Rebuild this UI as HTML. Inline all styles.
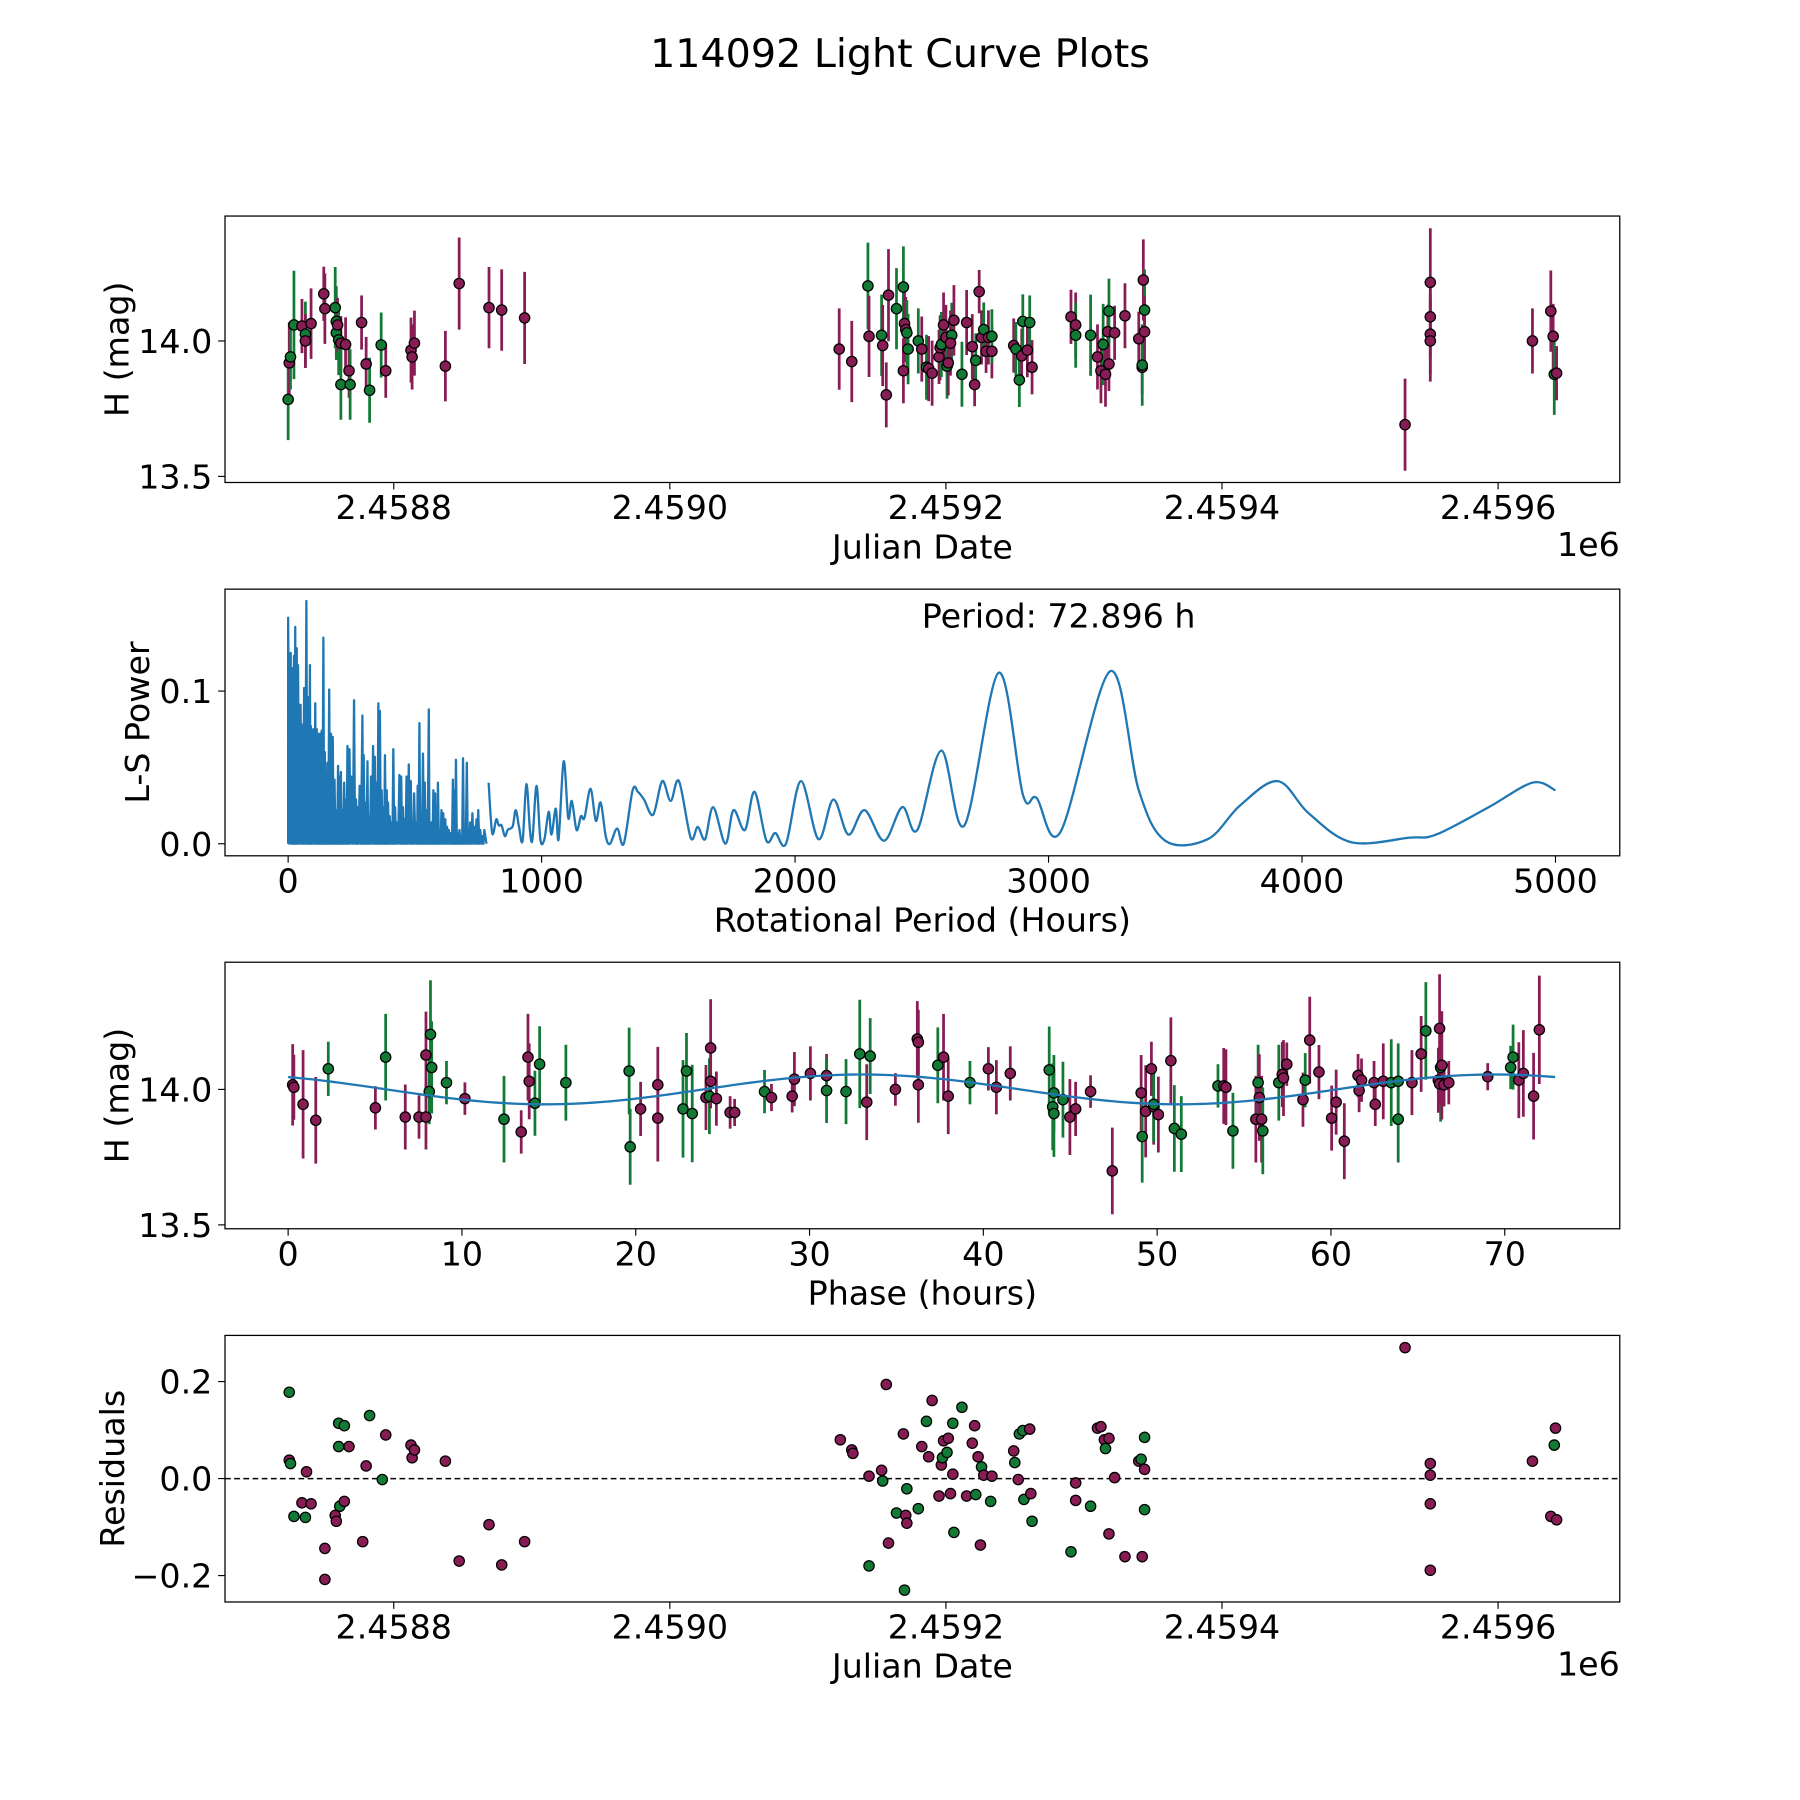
<!DOCTYPE html>
<html><head><meta charset="utf-8"><title>114092 Light Curve Plots</title>
<style>
html,body{margin:0;padding:0;background:#fff;}
svg{display:block;}
text{font-family:"DejaVu Sans","Liberation Sans",sans-serif;fill:#000;}
</style></head>
<body>
<svg id="fig" xmlns="http://www.w3.org/2000/svg" width="1800" height="1800" viewBox="0 0 1568 1568">
<rect x="0" y="0" width="1568" height="1568" fill="#fff"/>
<text x="784" y="58.5" font-size="34.5" text-anchor="middle">114092 Light Curve Plots</text>
</svg>
<script>
// ---------- Panel 1: light curve (JD offset from 2458800) ----------
const p1Day = [
-76.5,-75.7,-74.8,-72.3,-66.5,-64.0,-64.0,-59.9,-50.7,-49.9,
-42.4,-41.6,-41.6,-40.7,-39.9,-38.3,-38.3,-34.9,-32.4,-31.6,
-23.3,-20.0,-17.5,-9.1,-5.8,12.5,13.3,15.0,37.4,47.4,
69.0,78.2,94.8,322.7,331.8,343.5,344.3,353.4,354.2,356.8,
358.4,364.2,369.2,369.2,370.0,370.9,371.7,372.6,380.0,382.5,
385.9,387.5,390.0,395.0,395.8,396.7,398.3,400.0,400.8,401.7,
404.2,403.3,405.8,411.6,415.0,419.1,420.8,421.6,424.1,425.8,
427.4,429.1,430.8,433.3,433.3,449.1,450.7,453.2,454.9,455.7,
459.0,460.7,462.4,490.6,494.0,494.0,504.8,509.8,512.3,513.9,
515.6,517.3,518.1,518.1,522.2,529.7,539.7,542.2,543.0,543.9,
543.9,542.2,732.6,750.9,750.9,750.9,750.9,824.9,838.2,839.9,
840.7,842.4];
const p1Mag = [
13.784,13.919,13.941,14.059,14.055,14.025,14.000,14.064,14.174,14.119,
14.123,14.072,14.030,14.059,14.004,13.992,13.839,13.987,13.890,13.839,
14.068,13.915,13.818,13.985,13.890,13.966,13.941,13.992,13.907,14.212,
14.123,14.114,14.085,13.970,13.924,14.203,14.017,14.021,13.983,13.801,
14.169,14.119,14.199,13.890,14.064,14.042,14.030,13.970,14.000,13.970,
13.903,13.898,13.881,13.941,13.975,13.987,14.059,14.013,13.907,13.919,
14.021,13.992,14.076,13.877,14.068,13.979,13.839,13.928,14.182,14.013,
14.042,13.962,14.013,13.962,14.017,13.983,13.970,13.856,13.945,14.072,
13.966,14.068,13.903,14.089,14.059,14.021,14.021,13.941,13.890,13.987,
13.877,14.034,13.915,14.110,14.030,14.093,14.008,13.903,14.225,14.114,
14.034,13.911,13.691,14.216,14.089,14.025,14.000,14.000,14.110,14.017,
13.877,13.881];
const p1Err = [
0.15,0.15,0.12,0.2,0.1,0.12,0.1,0.13,0.1,0.13,
0.15,0.13,0.1,0.1,0.13,0.1,0.13,0.1,0.1,0.13,
0.1,0.1,0.12,0.12,0.1,0.12,0.12,0.12,0.13,0.17,
0.15,0.15,0.17,0.15,0.15,0.16,0.15,0.15,0.15,0.12,
0.17,0.15,0.15,0.12,0.12,0.12,0.12,0.13,0.12,0.12,
0.12,0.12,0.12,0.1,0.12,0.12,0.12,0.12,0.12,0.12,
0.12,0.12,0.13,0.12,0.12,0.12,0.08,0.1,0.08,0.1,
0.1,0.08,0.1,0.1,0.1,0.1,0.1,0.1,0.1,0.1,
0.1,0.1,0.1,0.1,0.12,0.12,0.15,0.12,0.12,0.15,
0.12,0.1,0.1,0.12,0.1,0.12,0.1,0.1,0.15,0.15,
0.13,0.15,0.17,0.2,0.15,0.15,0.15,0.12,0.15,0.12,
0.15,0.1];
const p1Filter = ("gmggmgmmmm"+"gggmgmgmmg"+"mmggmmmmmm"+"mmmmmgmgmm"+"mggmmmgggm"+
 "gmmmmgmmgm"+"gmmgmmmgmm"+"gmmmgmggmg"+"mgmmmggmmg"+"mmmgmmmmmg"+"mgmmmmmmmm"+"gm").split("");

// ---------- Panel 2: Lomb-Scargle periodogram ----------
const spikePeriod = [0,10,17,23,28,34,39,49,56,63,72,79,86,90,99,107,113,120,127,132,
139,145,149,155,162,169,176,183,190,197,201,208,214,221,228,234,242,251,260,268,
275,282,293,298,306,313,318,327,335,342,349,356,362,369,376,382,389,394,401,408,
415,422,429,439,446,453,460,467,476,484,490,497,507,511,518,524,532,539,546,555,
560,566,573,580,586,591,598,605,612,620,627,634,643,650,656,662,669,676,683,690,
697,705,712,718,727,735,743,750,758,767,774];
const spikePower = [0.148,0.125,0.115,0.123,0.142,0.128,0.117,0.091,0.078,0.102,
0.159,0.096,0.117,0.077,0.075,0.092,0.075,0.072,0.072,0.074,
0.135,0.060,0.022,0.053,0.101,0.072,0.070,0.042,0.022,0.051,
0.044,0.047,0.022,0.040,0.029,0.064,0.062,0.044,0.094,0.029,
0.024,0.038,0.084,0.058,0.027,0.054,0.018,0.044,0.064,0.057,
0.040,0.092,0.087,0.035,0.024,0.058,0.035,0.027,0.018,0.014,
0.062,0.024,0.014,0.045,0.044,0.024,0.016,0.044,0.052,0.041,
0.014,0.033,0.014,0.038,0.079,0.016,0.059,0.040,0.022,0.088,
0.009,0.014,0.035,0.033,0.009,0.040,0.005,0.022,0.020,0.016,
0.011,0.009,0.007,0.042,0.035,0.055,0.007,0.009,0.005,0.056,
0.007,0.053,0.009,0.014,0.020,0.011,0.016,0.022,0.009,0.005,0.009];
const lsPeriod = [791,805,821,831,842,855,866,877,887,898,911,925,940,954,964,980,995,1011,1028,1039,1056,1067,
1087,1105,1119,1138,1155,1169,1193,1214,1233,1253,1270,1298,1324,1359,1380,1404,1440,1476,1509,1542,1588,1616,1645,1677,1725,1757,1802,1840,1887,1922,1964,
2023,2092,2151,2210,2274,2351,2423,2482,2577,2668,2803,2899,2953,3048,3243,3356,3460,3628,3755,3904,4026,4194,4425,4529,4737,4909,5000];
const lsPower = [0.040,0.007,0.016,0.012,0.012,0.005,0.009,0.010,0.012,0.022,0.011,0.002,0.039,0.009,0.003,0.038,0.003,0.003,0.021,0.006,0.023,0.003,
0.054,0.017,0.028,0.009,0.018,0.017,0.036,0.015,0.027,0.005,0.000,0.010,0.000,0.035,0.034,0.029,0.019,0.041,0.028,0.041,0.004,0.011,0.003,0.024,0.000,0.022,0.009,0.034,0.002,0.007,0.000,
0.041,0.003,0.029,0.006,0.022,0.002,0.024,0.009,0.061,0.012,0.112,0.032,0.030,0.008,0.113,0.035,0.002,0.003,0.025,0.041,0.020,0.001,0.004,0.006,0.024,0.040,0.035];
const bestPeriodLabel = "Period: 72.896 h";

// ---------- Panel 3: phase-folded ----------
const p3Phase = [
0.26,0.33,0.86,1.59,2.31,5.02,5.61,6.74,7.53,7.93,
7.93,8.12,8.19,8.26,9.11,10.17,12.42,13.41,13.80,13.87,
14.20,14.47,15.98,19.62,19.68,20.28,21.27,21.27,22.72,22.92,
23.25,24.04,24.24,24.31,24.31,24.64,25.43,25.69,27.41,27.81,
29.00,29.13,30.05,30.98,30.98,32.10,32.89,33.29,33.49,34.94,
36.20,36.26,36.26,37.38,37.71,37.98,39.23,40.29,40.75,41.55,
43.79,43.99,44.06,44.06,44.58,44.98,45.31,46.17,47.42,49.08,
49.14,49.34,49.67,49.80,49.80,50.07,50.79,50.99,51.39,53.50,
53.83,53.96,54.36,55.68,55.81,55.88,56.01,56.08,57.00,57.20,
57.27,57.46,58.39,58.52,58.78,59.31,60.04,60.30,60.77,61.56,
61.62,61.76,62.48,62.55,63.01,63.47,63.87,63.87,64.66,65.19,
65.46,66.18,66.31,66.38,66.25,66.25,66.51,66.78,69.02,70.34,
70.48,70.81,71.07,71.66,71.99];
const p3Mag = [
14.017,14.008,13.945,13.886,14.076,13.932,14.119,13.898,13.898,14.127,
13.898,13.992,14.203,14.081,14.025,13.966,13.890,13.843,14.119,14.030,
13.949,14.093,14.025,14.068,13.788,13.928,14.017,13.894,13.928,14.068,
13.911,13.970,13.975,14.153,14.030,13.966,13.915,13.915,13.992,13.970,
13.975,14.038,14.059,14.051,13.996,13.992,14.131,13.953,14.123,14.000,
14.186,14.174,14.017,14.089,14.119,13.975,14.025,14.076,14.008,14.059,
14.072,13.936,13.911,13.987,13.962,13.898,13.928,13.992,13.699,13.987,
13.826,13.919,14.076,13.936,13.945,13.907,14.106,13.856,13.835,14.013,
14.013,14.008,13.847,13.890,14.025,13.970,13.890,13.847,14.025,14.055,
14.042,14.093,13.962,14.034,14.182,14.064,13.894,13.953,13.809,14.051,
13.996,14.034,14.025,13.945,14.030,14.025,14.030,13.890,14.025,14.131,
14.216,14.034,14.081,14.089,14.225,14.021,14.017,14.025,14.047,14.081,
14.119,14.034,14.059,13.975,14.220];
const p3Err = [
0.15,0.12,0.2,0.16,0.1,0.08,0.16,0.12,0.08,0.16,
0.12,0.12,0.2,0.17,0.08,0.06,0.16,0.08,0.16,0.14,
0.12,0.14,0.14,0.16,0.14,0.1,0.14,0.16,0.18,0.14,
0.18,0.12,0.14,0.18,0.1,0.1,0.06,0.05,0.08,0.05,
0.06,0.1,0.1,0.08,0.12,0.12,0.2,0.14,0.14,0.06,
0.14,0.12,0.14,0.14,0.16,0.14,0.08,0.08,0.1,0.1,
0.16,0.16,0.16,0.14,0.14,0.14,0.1,0.06,0.16,0.14,
0.17,0.17,0.1,0.14,0.14,0.14,0.16,0.16,0.14,0.08,
0.14,0.14,0.14,0.16,0.14,0.16,0.16,0.16,0.14,0.12,
0.14,0.08,0.1,0.1,0.16,0.1,0.12,0.12,0.14,0.08,
0.08,0.08,0.08,0.08,0.14,0.16,0.14,0.16,0.12,0.14,
0.18,0.12,0.2,0.2,0.2,0.08,0.08,0.08,0.05,0.08,
0.12,0.14,0.16,0.16,0.2];
const p3Filter = ("mmmmgmgmmm"+"mggggmgmmm"+"gggggmmmgg"+"gmgmmmmmgm"+"mmmmgggmgm"+
 "mmmgmmgmmm"+"gggggmmmmm"+"gmmmgmmggg"+"mmgmgmmggm"+"mmmgmmmmmm"+"mmmmmgggmm"+"gmgmmmmmmg"+"gmmmm").split("");
const fitMean = 14.0, fitAmp = 0.055, fitPeakPhase = 33.0, fitCycle = 36.45, foldPeriod = 72.896;

// ---------- Panel 4: residuals ----------
const resDay = [
-75.7,-75.7,-74.8,-72.3,-66.5,-64.0,-63.2,-59.9,-49.9,-49.9,
-42.4,-41.6,-39.9,-39.9,-39.1,-35.8,-35.8,-32.4,-22.5,-20.0,
-17.5,-8.3,-5.8,12.5,13.3,15.0,37.4,47.4,69.0,78.2,
94.8,323.5,331.8,332.6,344.3,344.3,353.4,354.2,356.8,358.4,
364.2,369.2,370.0,370.9,371.7,371.7,380.0,382.5,385.9,387.5,
390.0,395.0,396.7,397.5,398.3,400.8,401.7,403.3,405.0,405.0,
405.8,411.6,415.0,419.1,420.8,421.6,423.3,425.0,425.8,427.4,
432.4,433.3,449.1,449.9,452.4,453.2,455.7,456.5,460.7,462.4,
461.5,490.6,494.0,494.0,504.8,509.8,512.3,514.8,515.6,518.1,
518.1,522.2,529.7,539.7,541.4,542.2,543.9,543.9,543.9,732.6,
750.9,750.9,750.9,750.9,824.9,838.2,840.7,841.6,842.4];
const resVal = [
0.178,0.038,0.031,-0.078,-0.050,-0.080,0.014,-0.052,-0.144,-0.208,
-0.076,-0.088,0.114,0.066,-0.057,0.109,-0.047,0.066,-0.130,0.026,
0.130,-0.002,0.090,0.069,0.043,0.059,0.036,-0.170,-0.095,-0.178,
-0.130,0.080,0.059,0.052,0.005,-0.180,0.017,-0.005,0.194,-0.133,
-0.071,0.092,-0.230,-0.076,-0.092,-0.021,-0.062,0.066,0.118,0.045,
0.161,-0.036,0.028,0.043,0.078,0.054,0.083,-0.031,0.114,0.009,
-0.111,0.147,-0.036,0.073,0.109,-0.033,0.045,-0.137,0.024,0.007,
-0.047,0.005,0.057,0.033,-0.002,0.092,0.099,-0.043,0.102,-0.088,
-0.031,-0.151,-0.045,-0.009,-0.057,0.104,0.107,0.080,0.062,0.083,
-0.114,0.002,-0.161,0.036,0.040,-0.161,0.085,0.019,-0.064,0.270,
0.031,0.007,-0.052,-0.189,0.036,-0.078,0.069,0.104,-0.085];
const resFilter = ("gmggmgmmmm"+"mmggggmmmm"+"ggmmmmmmmm"+"mmmmmgmgmm"+"gmgmmggmgm"+
 "mmmgmgmmgm"+"ggmmmgmmgm"+"gmmgmgggmg"+"mgmmgmmmgm"+"mmmmgmgmgm"+"mmmmmmgmm").split("");

const jdTicks = [0,200,400,600,800];
const jdTickLabels = ["2.4588","2.4590","2.4592","2.4594","2.4596"];
const magTicks = [13.5,14.0];
const magTickLabels = ["13.5","14.0"];
const lsXTicks = [0,1000,2000,3000,4000,5000];
const lsYTicks = [0.0,0.1];
const lsYTickLabels = ["0.0","0.1"];
const phaseTicks = [0,10,20,30,40,50,60,70];
const resTicks = [-0.2,0.0,0.2];
const resTickLabels = ["\u22120.2","0.0","0.2"];

// ---------- drawing ----------
const NS = "http://www.w3.org/2000/svg";
const svg = document.getElementById("fig");
const COLORS = {g:"#137a35", m:"#881d55"};
const FS = 29;
const AX_L = 196, AX_R = 1411;
const PANELS = [[188.2,420.3],[513.2,745.5],[838.2,1070.4],[1163.3,1395.5]];
function el(tag, attrs, parent){
  const e = document.createElementNS(NS, tag);
  for (const k in attrs) e.setAttribute(k, attrs[k]);
  (parent||svg).appendChild(e);
  return e;
}
const xJD = d => 343 + d*1.2025;
const yMag1 = h => 297 - (h-14)*236;
const xLS = p => 251 + p*0.2208;
const yLS = v => 735 - v*1330;
const xPh = p => 251 + p*15.14;
const yMag3 = h => 949 - (h-14)*236;
const yRes = r => 1288 - r*422.5;

function frame(name, idx){
  const [t,b] = PANELS[idx];
  const g = el("g", {});
  
  
  const clip = el("clipPath", {id:"clip"+idx}, g);
  el("rect", {x:AX_L, y:t, width:AX_R-AX_L, height:b-t}, clip);
  return g;
}
function border(g, idx){
  const [t,b] = PANELS[idx];
  const r = el("rect", {x:AX_L, y:t, width:AX_R-AX_L, height:b-t, fill:"none", stroke:"#000", "stroke-width":1.1}, g);
  
  
}
function xTicks(g, idx, vals, labels, fx){
  const b = PANELS[idx][1];
  vals.forEach((v,i)=>{
    const x = fx(v);
    el("line", {x1:x, x2:x, y1:b, y2:b+6, stroke:"#000", "stroke-width":1}, g);
    const t = el("text", {x:x, y:b+32, "font-size":FS, "text-anchor":"middle"}, g);
    
    
    t.textContent = labels[i];
  });
}
function yTicks(g, vals, labels, fy){
  vals.forEach((v,i)=>{
    const y = fy(v);
    el("line", {x1:AX_L-6, x2:AX_L, y1:y, y2:y, stroke:"#000", "stroke-width":1}, g);
    const t = el("text", {x:AX_L-11, y:y+10.5, "font-size":FS, "text-anchor":"end"}, g);
    
    
    t.textContent = labels[i];
  });
}
function xLabel(g, idx, txt, offset){
  const b = PANELS[idx][1];
  const t = el("text", {x:(AX_L+AX_R)/2, y:b+66, "font-size":FS, "text-anchor":"middle"}, g);
  
  
  t.textContent = txt;
  if (offset){
    const o = el("text", {x:AX_R, y:b+64, "font-size":FS, "text-anchor":"end"}, g);
    
    
    o.textContent = "1e6";
  }
}
function yLabel(g, idx, txt, x){
  const [t,b] = PANELS[idx];
  const cy = (t+b)/2;
  const e = el("text", {x:x, y:cy+10, "font-size":FS, "text-anchor":"middle", transform:"rotate(-90 "+x+" "+cy+")"}, g);
  
  
  e.textContent = txt;
}
function errPoints(g, idx, xs, ys, errs, filters, fx, fy){
  const layer = el("g", {"clip-path":"url(#clip"+idx+")"}, g);
  xs.forEach((d,i)=>{
    const c = COLORS[filters[i]];
    const x = fx(d);
    const eb = el("line", {x1:x, x2:x, y1:fy(ys[i]-errs[i]), y2:fy(ys[i]+errs[i]), stroke:c, "stroke-width":2.4}, layer);
    
    
  });
  xs.forEach((d,i)=>{
    const p = el("circle", {cx:fx(d), cy:fy(ys[i]), r:4.5, fill:COLORS[filters[i]], stroke:"#000", "stroke-width":1.1}, layer);
    
    
  });
}
function catmull(pts){
  let d = "M"+pts[0][0].toFixed(2)+","+pts[0][1].toFixed(2);
  for (let i=0;i<pts.length-1;i++){
    const p0 = pts[i-1]||pts[i], p1 = pts[i], p2 = pts[i+1], p3 = pts[i+2]||pts[i+1];
    const c1x = p1[0]+(p2[0]-p0[0])/6, c1y = p1[1]+(p2[1]-p0[1])/6;
    const c2x = p2[0]-(p3[0]-p1[0])/6, c2y = p2[1]-(p3[1]-p1[1])/6;
    d += " C"+c1x.toFixed(2)+","+c1y.toFixed(2)+" "+c2x.toFixed(2)+","+c2y.toFixed(2)+" "+p2[0].toFixed(2)+","+p2[1].toFixed(2);
  }
  return d;
}

// Panel 1
{
  const g = frame("light-curve-panel", 0);
  errPoints(g, 0, p1Day, p1Mag, p1Err, p1Filter, xJD, yMag1);
  border(g, 0);
  xTicks(g, 0, jdTicks, jdTickLabels, xJD);
  yTicks(g, magTicks, magTickLabels, yMag1);
  xLabel(g, 0, "Julian Date", true);
  yLabel(g, 0, "H (mag)", 102);
}
// Panel 2
{
  const g = frame("periodogram-panel", 1);
  const layer = el("g", {"clip-path":"url(#clip1)"}, g);
  let d = "M"+xLS(spikePeriod[0]).toFixed(2)+","+yLS(0).toFixed(2);
  spikePeriod.forEach((p,i)=>{
    d += " L"+xLS(p).toFixed(2)+","+yLS(spikePower[i]).toFixed(2);
    const next = i < spikePeriod.length-1 ? spikePeriod[i+1] : lsPeriod[0];
    d += " L"+xLS((p+next)/2).toFixed(2)+","+yLS(0).toFixed(2);
  });
  const sp = el("path", {d:d, fill:"none", stroke:"#1f77b4", "stroke-width":2, "stroke-linejoin":"round"}, layer);
  
  
  const pts = lsPeriod.map((p,i)=>[xLS(p), yLS(lsPower[i])]);
  const ln = el("path", {d:catmull(pts), fill:"none", stroke:"#1f77b4", "stroke-width":2, "stroke-linejoin":"round"}, layer);
  
  
  border(g, 1);
  xTicks(g, 1, lsXTicks, lsXTicks.map(String), xLS);
  yTicks(g, lsYTicks, lsYTickLabels, yLS);
  xLabel(g, 1, "Rotational Period (Hours)", false);
  yLabel(g, 1, "L-S Power", 120);
  const ann = el("text", {x:803, y:546.5, "font-size":FS}, g);
  
  
  ann.textContent = bestPeriodLabel;
}
// Panel 3
{
  const g = frame("phase-folded-panel", 2);
  errPoints(g, 2, p3Phase, p3Mag, p3Err, p3Filter, xPh, yMag3);
  const fitPts = [];
  for (let k=0;k<=200;k++){
    const ph = foldPeriod*k/200;
    fitPts.push((k?"L":"M")+xPh(ph).toFixed(2)+","+yMag3(fitMean + fitAmp*Math.cos(2*Math.PI*(ph-fitPeakPhase)/fitCycle)).toFixed(2));
  }
  const fit = el("path", {d:fitPts.join(" "), fill:"none", stroke:"#1f77b4", "stroke-width":2}, g);
  
  
  border(g, 2);
  xTicks(g, 2, phaseTicks, phaseTicks.map(String), xPh);
  yTicks(g, magTicks, magTickLabels, yMag3);
  xLabel(g, 2, "Phase (hours)", false);
  yLabel(g, 2, "H (mag)", 102);
}
// Panel 4
{
  const g = frame("residuals-panel", 3);
  const zl = el("line", {x1:AX_L, x2:AX_R, y1:yRes(0), y2:yRes(0), stroke:"#000", "stroke-width":1.3, "stroke-dasharray":"5,3"}, g);
  
  
  const layer = el("g", {"clip-path":"url(#clip3)"}, g);
  resDay.forEach((d,i)=>{
    const p = el("circle", {cx:xJD(d), cy:yRes(resVal[i]), r:4.5, fill:COLORS[resFilter[i]], stroke:"#000", "stroke-width":1.1}, layer);
    
    
  });
  border(g, 3);
  xTicks(g, 3, jdTicks, jdTickLabels, xJD);
  yTicks(g, resTicks, resTickLabels, yRes);
  xLabel(g, 3, "Julian Date", true);
  yLabel(g, 3, "Residuals", 98);
}
</script>
</body></html>
